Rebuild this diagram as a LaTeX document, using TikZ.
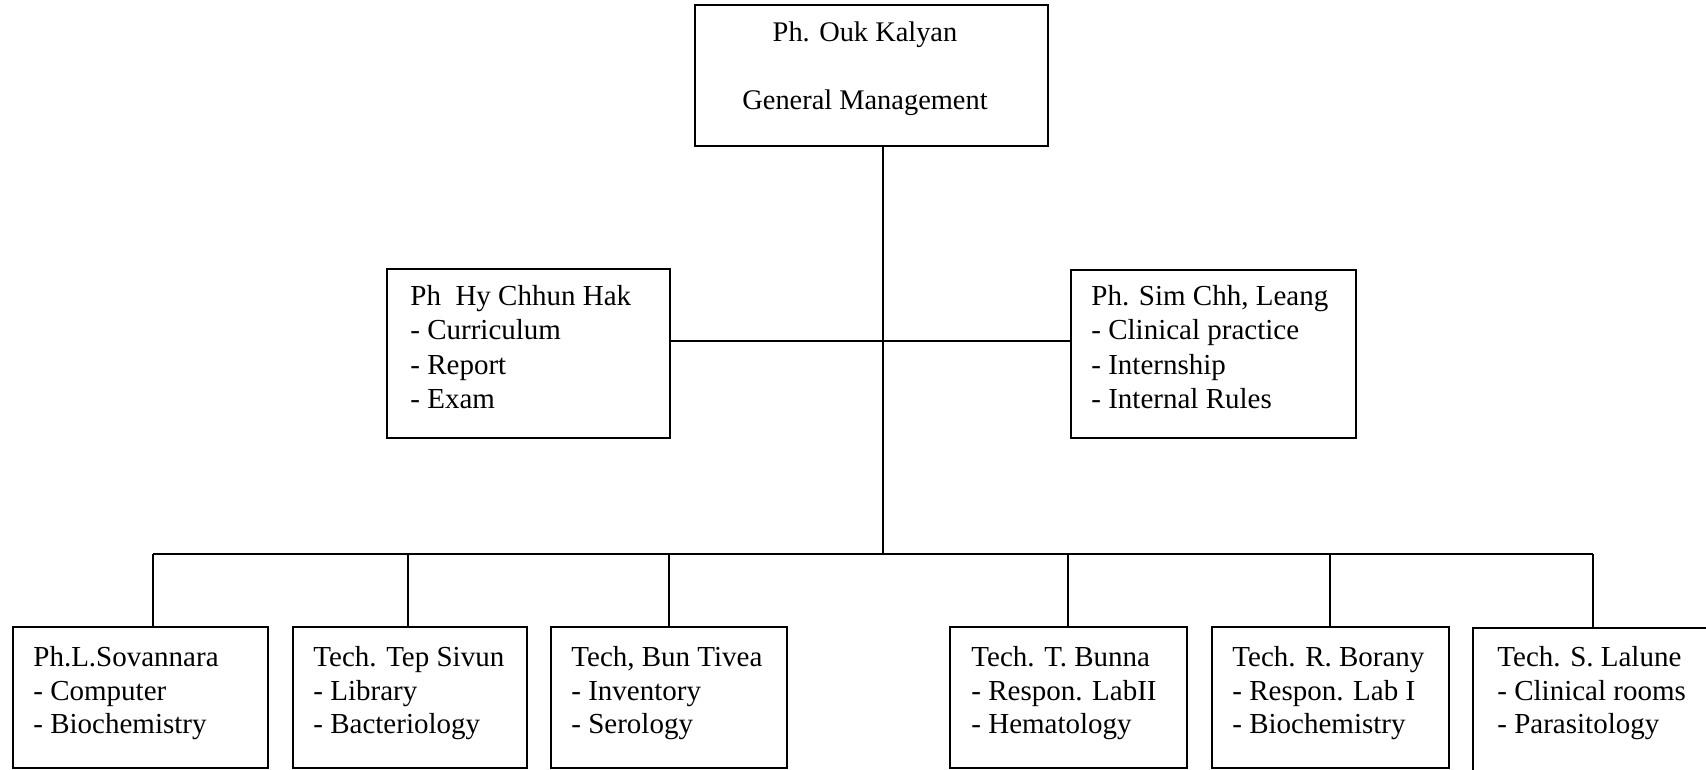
\documentclass[tikz,border=0pt]{standalone}
\usepackage{fontspec}
\setmainfont{Liberation Serif}
\begin{document}
\begin{tikzpicture}[x=0.5pt,y=-0.5pt,
  box/.style={draw, line width=0.9pt, inner sep=0pt},
  conn/.style={draw, line width=0.9pt},
  txt/.style={inner sep=0pt, align=left, anchor=north west, font=\fontsize{14.5}{17.2}\selectfont},
  btxt/.style={inner sep=0pt, align=left, anchor=north west, font=\fontsize{14.5}{16.8}\selectfont}]
\useasboundingbox (0,0) rectangle (1706,770);
\clip (0,0) rectangle (1706,770);
% boxes
\node[box, minimum width=176.5pt, minimum height=70.5pt] (top) at (871.5,75.5) {};
\node[box, minimum width=141.5pt, minimum height=84.5pt] (hy) at (528.5,353.5) {};
\node[box, minimum width=142.5pt, minimum height=84pt] (sim) at (1213.5,354) {};
\node[box, minimum width=127.5pt, minimum height=70.5pt] (b1) at (140.5,697.5) {};
\node[box, minimum width=117pt, minimum height=70.5pt] (b2) at (410,697.5) {};
\node[box, minimum width=118pt, minimum height=70.5pt] (b3) at (669,697.5) {};
\node[box, minimum width=118.5pt, minimum height=70.5pt] (b4) at (1068.5,697.5) {};
\node[box, minimum width=118.5pt, minimum height=70.5pt] (b5) at (1330.5,697.5) {};
\node[box, minimum width=123.5pt, minimum height=81pt] (b6) at (1596.5,709) {};
% texts
\node[inner sep=0pt, align=center, anchor=north, font=\fontsize{14.2}{16}\selectfont] (topt) at (865,21) {Ph. Ouk Kalyan\\[18pt]General Management};
\node[txt] (hyt) at (410,285) {Ph~ Hy Chhun Hak\\- Curriculum\\- Report\\- Exam};
\node[txt] (simt) at (1091,285) {Ph. Sim Chh, Leang\\- Clinical practice\\- Internship\\- Internal Rules};
\node[btxt] (b1t) at (33,646) {Ph.L.Sovannara\\- Computer\\- Biochemistry};
\node[btxt] (b2t) at (313,646) {Tech. Tep Sivun\\- Library\\- Bacteriology};
\node[btxt] (b3t) at (571,646) {Tech, Bun Tivea\\- Inventory\\- Serology};
\node[btxt] (b4t) at (971,646) {Tech. T. Bunna\\- Respon. LabII\\- Hematology};
\node[btxt] (b5t) at (1232,646) {Tech. R. Borany\\- Respon. Lab I\\- Biochemistry};
\node[btxt] (b6t) at (1497,646) {Tech. S. Lalune\\- Clinical rooms\\- Parasitology};
% junctions
\coordinate (ja) at (883,341);
\coordinate (jb) at (883,554);
\coordinate (v1) at (153,554);
\coordinate (v2) at (408,554);
\coordinate (v3) at (669,554);
\coordinate (v4) at (1068,554);
\coordinate (v5) at (1330,554);
\coordinate (v6) at (1593,554);
% connectors
\draw[conn] (top.south -| ja) -- (jb);
\draw[conn] (hy.east |- ja) -- (sim.west |- ja);
\draw[conn] (v1) -- (v6);
\draw[conn] (v1) -- (v1 |- b1.north);
\draw[conn] (v2) -- (v2 |- b2.north);
\draw[conn] (v3) -- (v3 |- b3.north);
\draw[conn] (v4) -- (v4 |- b4.north);
\draw[conn] (v5) -- (v5 |- b5.north);
\draw[conn] (v6) -- (v6 |- b6.north);
\end{tikzpicture}
\end{document}
